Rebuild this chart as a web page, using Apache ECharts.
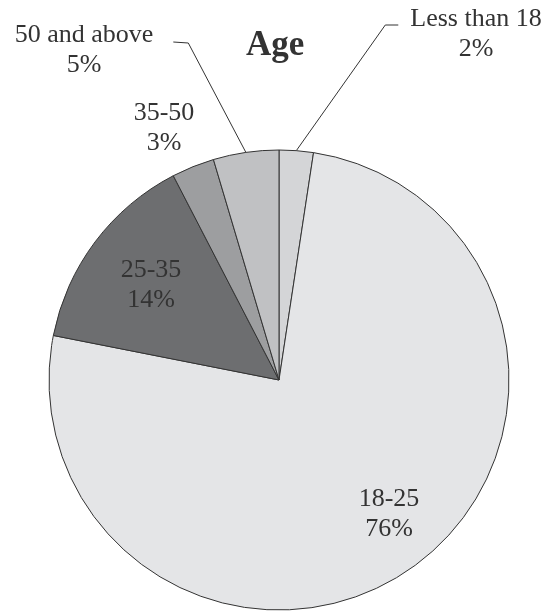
<!DOCTYPE html>
<html>
<head>
<meta charset="utf-8">
<script src="https://cdn.jsdelivr.net/npm/echarts@6/dist/echarts.min.js"></script>
<style>
  html, body { margin: 0; padding: 0; background: #fff; }
  #age_pie { width: 554px; height: 611px; }
</style>
</head>
<body>
<div id="age_pie"></div>
<script>
// Age pie
var categories = ['Less than 18', '18-25', '25-35', '35-50', '50 and above'];
var shares = [2.4, 75.7, 14.3, 3.0, 4.6];
var colors = ['#d4d5d7', '#e4e5e7', '#6d6e70', '#9d9ea0', '#c0c1c3'];

// label centres (px) and which ones get a leader line
var labelPos = [[476, 34], [389, 514], [151, 285], [164, 128], [84, 50]];
var hasLeader = [true, false, false, false, true];

var dom = document.getElementById('age_pie');
var myChart_age = echarts.init(dom);

var pieData = categories.map(function (name, i) {
    return {
        name: name,
        value: shares[i],
        itemStyle: { color: colors[i] },
        labelLine: { show: hasLeader[i] }
    };
});

var option = {
    animation: false,
    title: {
        text: 'Age',
        left: 241,
        top: 23,
        textStyle: {
            fontFamily: 'Liberation Serif',
            fontWeight: 'bold',
            fontSize: 35,
            color: '#333'
        }
    },
    series: [
        {
            type: 'pie',
            center: [279, 380],
            radius: 230,
            startAngle: 90,
            percentPrecision: 0,
            avoidLabelOverlap: false,
            data: pieData,
            itemStyle: {
                borderColor: '#333',
                borderWidth: 1
            },
            label: {
                show: true,
                position: 'outside',
                formatter: '{b}\n{d}%',
                fontFamily: 'Liberation Serif',
                fontSize: 26,
                lineHeight: 30,
                color: '#333'
            },
            labelLine: {
                length: 20,
                length2: 10,
                lineStyle: { color: '#333', width: 1 }
            },
            emphasis: { disabled: true },
            labelLayout: function (params) {
                var i = params.dataIndex;
                var x = labelPos[i][0];
                var y = labelPos[i][1];
                var res = { x: x, y: y, align: 'center', verticalAlign: 'middle' };
                if (hasLeader[i] && params.labelLinePoints) {
                    var w = params.labelRect.width;
                    var p0 = params.labelLinePoints[0];
                    var p2, p1;
                    if (i === 0) {
                        p2 = [x - w / 2 - 12, y - 9];
                        p1 = [p2[0] - 13, p2[1]];
                    } else {
                        p2 = [x + w / 2 + 20, y - 8];
                        p1 = [p2[0] + 15, p2[1] + 1];
                    }
                    res.labelLinePoints = [p0, p1, p2];
                }
                return res;
            }
        }
    ]
};

if (option && typeof option === 'object') {
    myChart_age.setOption(option);
}
</script>
</body>
</html>
